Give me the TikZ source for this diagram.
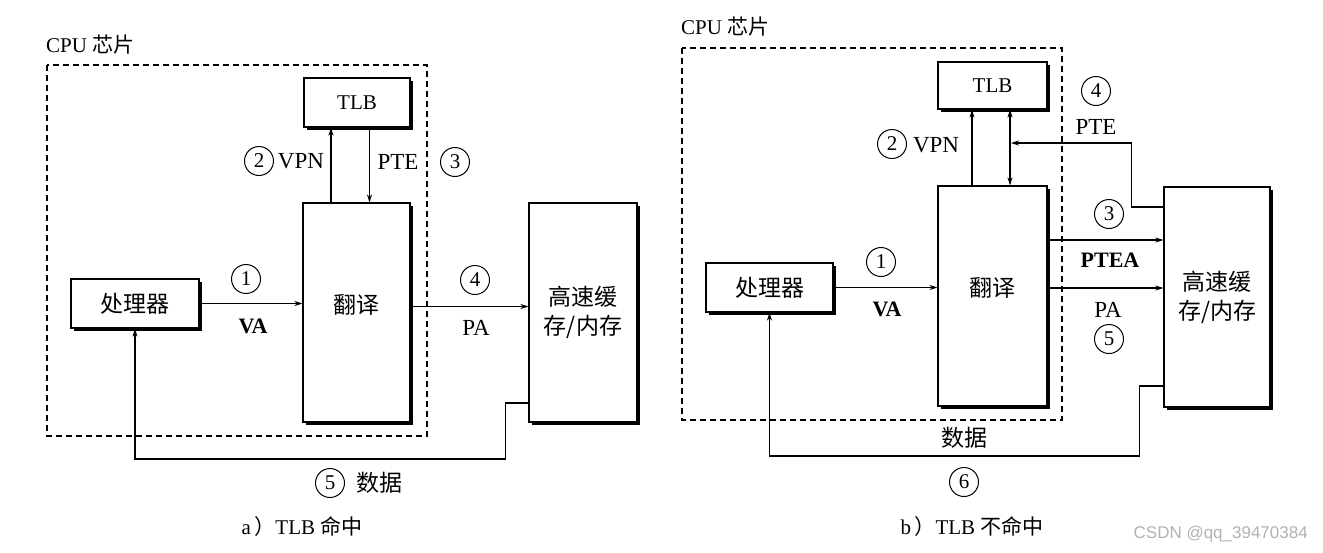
\documentclass[tikz,border=0pt]{standalone}
\usepackage{fontspec}
\setmainfont{Liberation Serif}
\newfontfamily\cjk{Noto Sans CJK SC}
\newfontfamily\wmfont{Liberation Sans}
\usetikzlibrary{arrows.meta,shadows}
\begin{document}
\begin{tikzpicture}[x=1pt,y=-1pt,
  every node/.style={inner sep=0pt},
  box/.style={draw, fill=white, line width=1.1pt, drop shadow={shadow xshift=3pt, shadow yshift=-3pt, fill=black, opacity=1}},
  cjktext/.style={font=\cjk\fontsize{23}{29}\selectfont, align=center},
  lbl/.style={font=\fontsize{23}{26}\selectfont},
  blbl/.style={font=\bfseries\fontsize{22}{26}\selectfont},
  num/.style={circle, draw, line width=1pt, minimum size=29pt, font=\fontsize{21}{21}\selectfont},
  conn/.style={line width=1.1pt},
  arr/.style={conn, -{Stealth[length=8pt,width=5pt]}},
  darr/.style={conn, {Stealth[length=8pt,width=5pt]}-{Stealth[length=8pt,width=5pt]}},
  chip/.style={draw, dashed, dash pattern=on 6pt off 4pt, line width=1.2pt},
  title/.style={font=\fontsize{21}{24}\selectfont, anchor=west},
  capstyle/.style={font=\fontsize{21}{24}\selectfont}
]
\useasboundingbox (0,0) rectangle (1323,552);
\fill[white] (0,0) rectangle (1323,552);

% ================= a) TLB hit =================
\node[title] (cpuA) at (46,45) {CPU {\cjk 芯片}};
\draw[chip] (47,65) rectangle (427,436);

\node[box, minimum width=106pt, minimum height=49pt, font=\fontsize{21}{24}\selectfont] (tlbA) at (357,102.5) {TLB};
\node[box, minimum width=107pt, minimum height=219pt] (trA) at (356.5,312.5) {};
\node[cjktext] (trAt) at (356.5,305) {翻译};
\node[box, minimum width=108pt, minimum height=219pt, cjktext] (cacheA) at (583,312.5) {高速缓\\存/内存};
\node[box, minimum width=128pt, minimum height=49pt, cjktext] (procA) at (135,303.5) {处理器};

\draw[arr] (procA.east) -- (procA.east -| trA.west);
\draw[arr] ([xshift=-25.5pt]trA.north) -- ([xshift=-25.5pt]trA.north |- tlbA.south);
\draw[arr] ([xshift=12.5pt]tlbA.south) -- ([xshift=12.5pt]tlbA.south |- trA.north);
\draw[arr] ([yshift=6pt]trA.east) -- ([yshift=6pt]trA.east -| cacheA.west);
\draw[arr] ([yshift=-90.5pt]cacheA.west) -- ++(-23,0) -- ++(0,56) -| (procA.south);

\node[num] (n1A) at (246,279) {1};
\node[blbl] (vaA) at (253,326) {VA};
\node[num] (n2A) at (259,161) {2};
\node[lbl] (vpnA) at (301,161) {VPN};
\node[lbl] (pteA) at (398,162) {PTE};
\node[num] (n3A) at (455,162) {3};
\node[num] (n4A) at (475,280) {4};
\node[lbl] (paA) at (476,328) {PA};
\node[num] (n5A) at (330,483) {5};
\node[cjktext] (dataA) at (379,483) {数据};
\node[capstyle] (capA) at (302,527) {a\,{\cjk ）}TLB {\cjk 命中}};

% ================= b) TLB miss =================
\node[title] (cpuB) at (681,27) {CPU {\cjk 芯片}};
\draw[chip] (682,48) rectangle (1062,420);

\node[box, minimum width=109pt, minimum height=47pt, font=\fontsize{21}{24}\selectfont] (tlbB) at (992.5,85.5) {TLB};
\node[box, minimum width=109pt, minimum height=220pt] (trB) at (992.5,296) {};
\node[cjktext] (trBt) at (992.5,288) {翻译};
\node[box, minimum width=106pt, minimum height=220pt, cjktext] (cacheB) at (1217,297) {高速缓\\存/内存};
\node[box, minimum width=127pt, minimum height=49pt, cjktext] (procB) at (769.5,287.5) {处理器};

\coordinate (pteB) at (1011,143);
\draw[arr] (procB.east) -- (procB.east -| trB.west);
\draw[arr] ([xshift=-20.5pt]trB.north) -- ([xshift=-20.5pt]trB.north |- tlbB.south);
\draw[darr] ([xshift=17.5pt]trB.north) -- ([xshift=17.5pt]trB.north |- tlbB.south);
\draw[arr] ([yshift=90pt]cacheB.west) -- ++(-32,0) |- (pteB);
\draw[arr] ([yshift=56pt]trB.east) -- ([yshift=56pt]trB.east -| cacheB.west);
\draw[arr] ([yshift=8pt]trB.east) -- ([yshift=8pt]trB.east -| cacheB.west);
\draw[arr] ([yshift=-89pt]cacheB.west) -- ++(-24,0) -- ++(0,70) -| (procB.south);

\node[num] (n1B) at (881,262) {1};
\node[blbl] (vaB) at (887,309) {VA};
\node[num] (n2B) at (892,144) {2};
\node[lbl] (vpnB) at (936,145) {VPN};
\node[num] (n4B) at (1096,91) {4};
\node[lbl] (pteBl) at (1096,127) {PTE};
\node[num] (n3B) at (1109,214) {3};
\node[blbl] (pteaB) at (1110,260) {PTEA};
\node[lbl] (paB) at (1108,310) {PA};
\node[num] (n5B) at (1109,339) {5};
\node[cjktext] (dataB) at (964,438) {数据};
\node[num] (n6B) at (964,482) {6};
\node[capstyle] (capB) at (972,527) {b\,{\cjk ）}TLB {\cjk 不命中}};

\node[font=\wmfont\fontsize{17}{19}\selectfont, text=black!30, anchor=east] (wm) at (1308,534) {CSDN @qq\_39470384};
\end{tikzpicture}
\end{document}
